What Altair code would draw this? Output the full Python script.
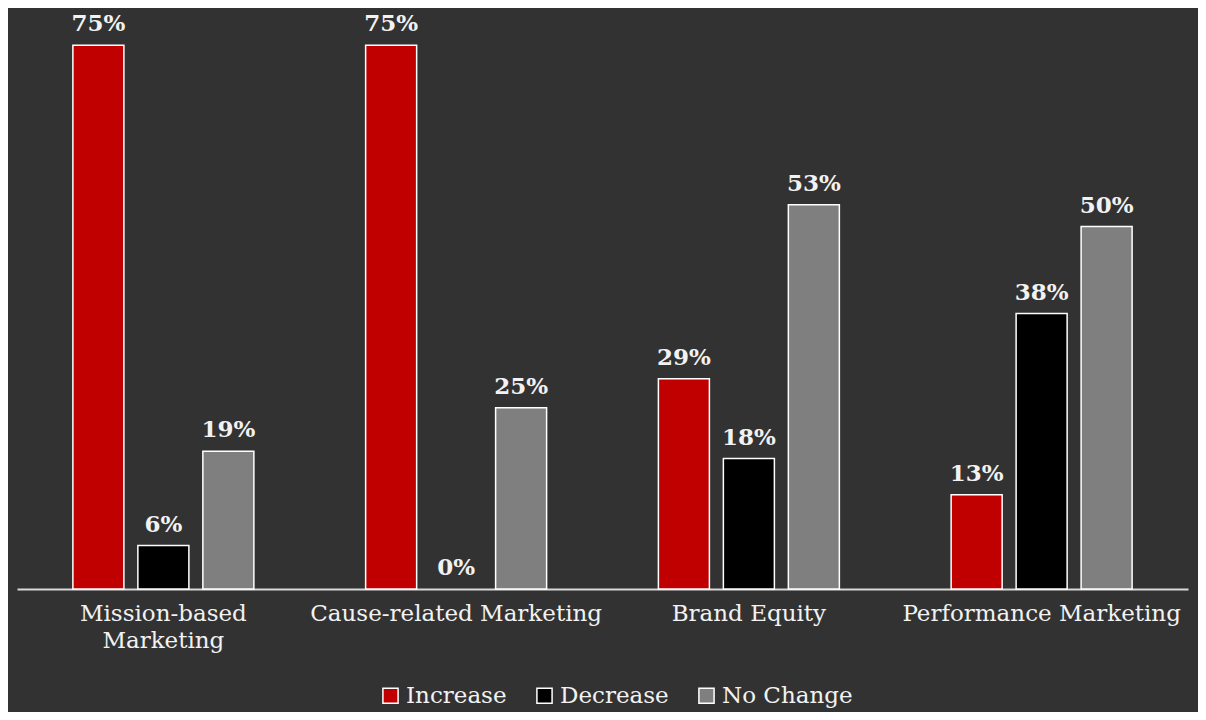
import altair as alt
import pandas as pd

categories = ["Mission-based Marketing", "Cause-related Marketing", "Brand Equity", "Performance Marketing"]
series = ["Increase", "Decrease", "No Change"]
increase = [75, 75, 29, 13]
decrease = [6, 0, 18, 38]
no_change = [19, 25, 53, 50]
colors = ["#c00000", "#000000", "#7f7f7f"]

rows = []
for s, vals in zip(series, [increase, decrease, no_change]):
    for c, v in zip(categories, vals):
        rows.append({"category": c, "series": s, "value": v})
df = pd.DataFrame(rows)

FONT = "DejaVu Serif"

base = alt.Chart(df).transform_calculate(label="datum.value + '%'")

x = alt.X("category:N", sort=categories, title=None,
          scale=alt.Scale(paddingInner=0, paddingOuter=0),
          axis=alt.Axis(labelAngle=0, ticks=False, domainColor="#d9d9d9", domainWidth=2,
                        labelColor="#f2f2f2", labelFont=FONT, labelFontSize=23,
                        labelPadding=13, labelLimit=400, labelBaseline="top", labelLineHeight=27,
                        labelExpr="datum.label == 'Mission-based Marketing' ? ['Mission-based', 'Marketing'] : datum.label"))
xo = alt.XOffset("series:N", sort=series,
                 scale=alt.Scale(paddingInner=0.215, paddingOuter=0.86))
y = alt.Y("value:Q", scale=alt.Scale(domain=[0, 80]), axis=None)

bars = base.mark_bar(stroke="white", strokeWidth=1.5).encode(
    x=x, xOffset=xo, y=y,
    strokeOpacity=alt.condition("datum.value == 0", alt.value(0), alt.value(1)),
    color=alt.Color("series:N", sort=series,
                    scale=alt.Scale(domain=series, range=colors),
                    legend=alt.Legend(title=None, orient="none", direction="horizontal",
                                      legendX=362, legendY=675,
                                      symbolType="square", symbolSize=230,
                                      symbolStrokeColor="white", symbolStrokeWidth=1.5,
                                      symbolOpacity=1,
                                      labelFont=FONT, labelFontSize=23, labelColor="#f2f2f2",
                                      labelOffset=4, columnPadding=26))
)

text = base.mark_text(font=FONT, fontWeight="bold", fontSize=23, color="#f2f2f2",
                      baseline="bottom", dy=-9).encode(
    x=x, xOffset=xo, y=y, text="label:N"
)

chart = (bars + text).properties(
    width=1171, height=580,
    background="#323232",
    padding={"left": 9, "right": 10, "top": 1, "bottom": 123},
    autosize=alt.AutoSizeParams(type="none"),
).configure_view(stroke=None)

chart.save("out.html", embed_options={"renderer": "svg", "actions": False})
